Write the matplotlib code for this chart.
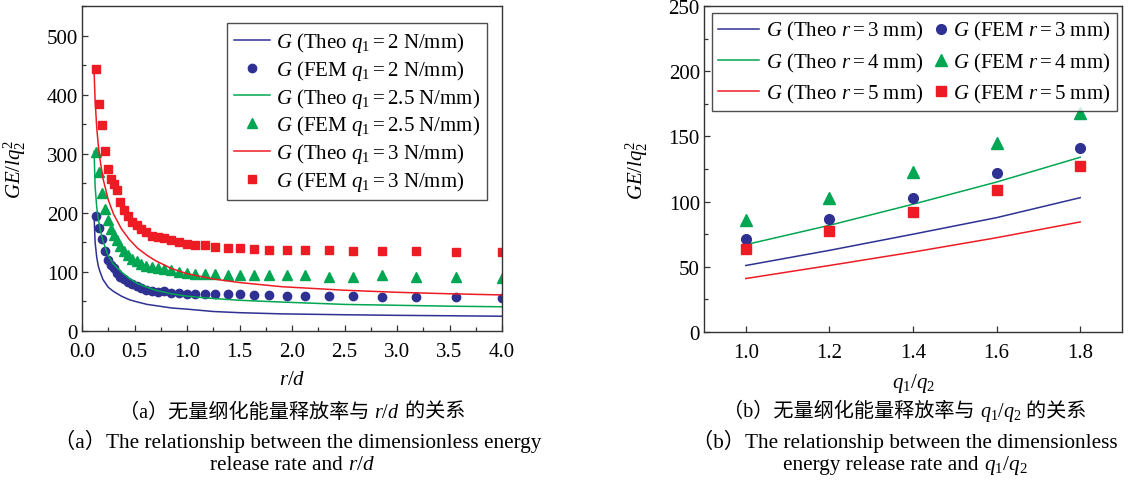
import numpy as np
import matplotlib
matplotlib.use("Agg")
import matplotlib.pyplot as plt
from matplotlib.lines import Line2D
from matplotlib.legend_handler import HandlerLine2D
from matplotlib.offsetbox import TextArea, HPacker, AnnotationBbox
from matplotlib.ticker import MultipleLocator

plt.rcParams['font.family'] = ['Liberation Serif', 'Noto Sans CJK SC']
plt.rcParams['mathtext.fontset'] = 'custom'
plt.rcParams['mathtext.rm'] = 'Liberation Serif'
plt.rcParams['mathtext.it'] = 'Liberation Serif:italic'
plt.rcParams['mathtext.bf'] = 'Liberation Serif:bold'

# ---------------- data: panel (a) ----------------
r_fem = [0.13, 0.165, 0.19, 0.22, 0.25, 0.28, 0.30, 0.33, 0.36, 0.40, 0.44, 0.48,
         0.52, 0.56, 0.61, 0.67, 0.72, 0.78, 0.85, 0.92, 1.00, 1.08, 1.17, 1.27,
         1.39, 1.50, 1.64, 1.78, 1.95, 2.12, 2.35, 2.58, 2.86, 3.18, 3.56, 4.00]
fem_q2 = [195, 175, 155, 135, 121, 112, 107, 98, 92, 88, 83, 79, 76, 73, 70, 67, 66, 67,
          65, 64, 63, 62, 63, 63, 62, 62, 61, 61, 59, 59, 60, 60, 58, 58, 57, 56]
fem_q25 = [303, 269, 233, 207, 188, 173, 163, 154, 144, 135, 129, 122, 118, 113, 110, 108,
           106, 105, 103, 100, 98, 97, 96, 96, 95, 94, 94, 95, 95, 94, 92, 92, 94, 92, 92, 90]
fem_q3 = [443, 384, 348, 305, 274, 258, 248, 238, 218, 205, 194, 185, 179, 173, 168, 161,
          159, 158, 154, 150, 147, 146, 145, 143, 141, 140, 138, 137, 137, 137, 137, 136,
          136, 135, 134, 133]

r_theo = [0.115, 0.125, 0.14, 0.155, 0.17, 0.20, 0.25, 0.30, 0.375, 0.45, 0.53, 0.62,
          0.70, 0.85, 1.0, 1.25, 1.5, 1.9, 2.5, 3.0, 3.5, 4.0]
theo_q2 = [196, 150, 125, 110, 101, 87, 74, 67, 59, 53, 49, 45, 43, 39, 37, 33, 31, 29,
           27.5, 26.5, 25.8, 25]
theo_q25 = [304, 245, 210, 190, 175, 152, 127, 113, 100, 89, 80, 74, 69, 63, 59, 55, 52,
            49, 45, 43.5, 42, 41]
theo_q3 = [440, 390, 345, 315, 292, 258, 222, 198, 173, 155, 140, 128, 119, 106, 97, 88,
           82, 75, 69, 65.5, 63, 61]

# ---------------- data: panel (b) ----------------
q_ratio = [1.0, 1.2, 1.4, 1.6, 1.8]
theo_r3 = [51, 62.6, 75, 87.7, 103]
theo_r4 = [67, 81.8, 98, 115, 134]
theo_r5 = [41, 51, 61.3, 72.3, 84.4]
fem_r3 = [71.6, 86.4, 102.8, 122, 141]
fem_r4 = [85.6, 102.8, 123, 144.7, 168]
fem_r5 = [64, 77.5, 92, 109, 127]

BLUE = '#2e3192'
GREEN = '#00a651'
RED = '#ed1c24'

W, H = 1132, 481
fig = plt.figure(figsize=(W / 100, H / 100), dpi=100)
ax1 = fig.add_axes([82 / W, 1 - 332 / H, 420 / W, 325 / H])
ax2 = fig.add_axes([704 / W, 1 - 333 / H, 418 / W, 326 / H])

FS = 15
lw = 1.1

# ----- panel a -----
ax1.plot(r_theo, theo_q2, color=BLUE, lw=lw, label=r'$G$ (Theo $q_1=$2 N/mm)')
ax1.plot(r_fem, fem_q2, 'o', color=BLUE, ms=6, ls='none', label=r'$G$ (FEM $q_1=$2 N/mm)')
ax1.plot(r_theo, theo_q25, color=GREEN, lw=lw, label=r'$G$ (Theo $q_1=$2.5 N/mm)')
ax1.plot(r_fem, fem_q25, '^', color=GREEN, ms=7, ls='none', label=r'$G$ (FEM $q_1=$2.5 N/mm)')
ax1.plot(r_theo, theo_q3, color=RED, lw=lw, label=r'$G$ (Theo $q_1=$3 N/mm)')
ax1.plot(r_fem, fem_q3, 's', color=RED, ms=6, ls='none', label=r'$G$ (FEM $q_1=$3 N/mm)')

ax1.set_xlim(0, 4.0)
ax1.set_ylim(0, 550)
ax1.xaxis.set_minor_locator(MultipleLocator(0.25))
ax1.yaxis.set_minor_locator(MultipleLocator(50))
ax1.set_xticks(np.arange(0, 4.01, 0.5))
ax1.set_xticklabels([f'{v:.1f}' for v in np.arange(0, 4.01, 0.5)])
ax1.set_yticks([0, 100, 200, 300, 400, 500])
ax1.set_xlabel(r'$r/d$', fontsize=FS)
ax1.set_ylabel(r'$GE/lq_2^2$', fontsize=FS)
ax1.xaxis.set_label_coords(0.5, -0.12)
ax1.yaxis.set_label_coords(-0.129, 0.5)

leg1 = ax1.legend(loc='upper right', bbox_to_anchor=(0.965, 0.948), borderaxespad=0,
                  fontsize=FS, frameon=True, fancybox=False, edgecolor='#222222',
                  handlelength=1.7, handletextpad=0.3, labelspacing=0.18,
                  borderpad=0.35, numpoints=1)
leg1.get_frame().set_linewidth(1.0)

# ----- panel b -----
ax2.plot(q_ratio, theo_r3, color=BLUE, lw=lw, label=r'$G$ (Theo $r=$3 mm)')
ax2.plot(q_ratio, theo_r4, color=GREEN, lw=lw, label=r'$G$ (Theo $r=$4 mm)')
ax2.plot(q_ratio, theo_r5, color=RED, lw=lw, label=r'$G$ (Theo $r=$5 mm)')
ax2.plot(q_ratio, fem_r3, 'o', color=BLUE, ms=7, ls='none', label=r'$G$ (FEM $r=$3 mm)')
ax2.plot(q_ratio, fem_r4, '^', color=GREEN, ms=8, ls='none', label=r'$G$ (FEM $r=$4 mm)')
ax2.plot(q_ratio, fem_r5, 's', color=RED, ms=7, ls='none', label=r'$G$ (FEM $r=$5 mm)')

ax2.set_xlim(0.9, 1.9)
ax2.set_ylim(0, 250)
ax2.set_xticks(q_ratio)
ax2.set_xticklabels([f'{v:.1f}' for v in q_ratio])
ax2.yaxis.set_major_locator(MultipleLocator(50))
ax2.yaxis.set_minor_locator(MultipleLocator(25))
ax2.set_xlabel(r'$q_1/q_2$', fontsize=FS)
ax2.set_ylabel(r'$GE/lq_2^2$', fontsize=FS)
ax2.xaxis.set_label_coords(0.5, -0.12)
ax2.yaxis.set_label_coords(-0.129, 0.5)


class ShiftedMarker(HandlerLine2D):
    def create_artists(self, legend, orig_handle, xdescent, ydescent, width, height,
                       fontsize, trans):
        arts = super().create_artists(legend, orig_handle, xdescent, ydescent, width,
                                      height, fontsize, trans)
        for a in arts:
            if isinstance(a, Line2D):
                a.set_xdata(np.asarray(a.get_xdata()) + width * 0.36)
        return arts


h2, l2 = ax2.get_legend_handles_labels()
hmap = {h: ShiftedMarker(numpoints=1) for h in h2[3:]}
leg2 = ax2.legend(h2, l2, ncol=2, loc='upper right', bbox_to_anchor=(0.988, 0.978),
                  borderaxespad=0, fontsize=FS, frameon=True, fancybox=False,
                  edgecolor='#222222', handlelength=2.0, handletextpad=0.3,
                  labelspacing=0.4, columnspacing=-0.85, borderpad=0.3,
                  numpoints=1, handler_map=hmap)
leg2.get_frame().set_linewidth(1.0)

for ax in (ax1, ax2):
    for s in ax.spines.values():
        s.set_linewidth(1.0)
        s.set_color('#333333')
    ax.tick_params(which='both', direction='in', top=False, right=False,
                   labelsize=FS, width=0.9, colors='#333333', labelcolor='black')
    ax.tick_params(which='major', length=4.5)
    ax.tick_params(which='minor', length=3)
    ax.tick_params(axis='x', which='major', pad=8)
    ax.tick_params(axis='y', which='major', pad=3)


def caption(parts, xc, yc, size):
    boxes = [TextArea(t, textprops=dict(fontsize=size,
                                        family=['Liberation Serif', 'Noto Sans CJK SC']))
             for t in parts]
    pack = HPacker(children=boxes, align='baseline', pad=0, sep=0)
    ab = AnnotationBbox(pack, (xc, H - yc), xycoords='figure pixels', frameon=False,
                        box_alignment=(0.5, 0.5), pad=0)
    fig.add_artist(ab)


CN, EN = 14.5, 15.3
caption(['（a）无量纲化能量释放率与 ', r'$r/d$', ' 的关系'], 292, 413, CN)
caption(['（a）The relationship between the dimensionless energy'], 298, 441, EN)
caption(['release rate and ', r'$r/d$'], 292, 466, EN)
caption(['（b）无量纲化能量释放率与 ', r'$q_1/q_2$', ' 的关系'], 905, 413, CN)
caption(['（b）The relationship between the dimensionless'], 905, 441, EN)
caption(['energy release rate and ', r'$q_1/q_2$'], 905, 466, EN)

fig.savefig('out.png', dpi=100, facecolor='white')
